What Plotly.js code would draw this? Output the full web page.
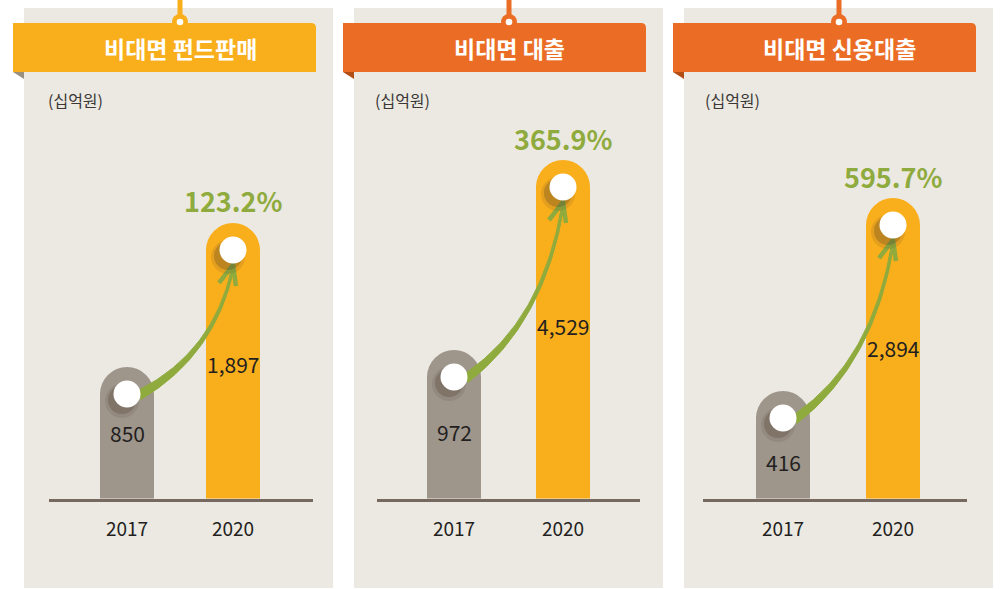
<!DOCTYPE html>
<html><head><meta charset="utf-8">
<script src="https://cdn.plot.ly/plotly-3.0.1.min.js"></script>
<style>html,body{margin:0;padding:0;background:#fff;}#chart{width:1000px;height:589px;}</style>
</head><body><div id="chart"></div>
<script>
// ---- data ----
const panelTitles = ['비대면 펀드판매', '비대면 대출', '비대면 신용대출'];
const years = ['2017', '2020'];
const values2017 = [850, 972, 416];
const values2020 = [1897, 4529, 2894];
const growthPct = [123.2, 365.9, 595.7];
const unitLabel = '(십억원)';

// ---- style / layout ----
const W = 1000, H = 589;
const COL = {bg:'#ECE9E3', gray:'#9E958B', orange:'#F9AE1C', headerY:'#F9AE1C', headerO:'#EB6D25',
  green:'#8FAB3E', base:'#766A60', text:'#231F20', unit:'#3A3735'};
const FONT = '"Noto Sans CJK KR", "Noto Sans", sans-serif';
const Y_BOTTOM = 498.5, Y_TOP = 98.5;
// each card uses a truncated value axis (floor = yr[0]) so the bars sit on the baseline
const panels = [
  {left:24, header:[13,316], hub:180, hcolor:COL.headerY, fold:'#9A9080', xdom:[49,313], xr:[-0.7358,1.7547], yr:[-106.1,2802.1], grayLbl:66, orLbl:141, unitX:46},
  {left:354, header:[343,646], hub:509, hcolor:COL.headerO, fold:'#B04E16', xdom:[377,640], xr:[-0.7064,1.7064], yr:[-1808.1,5680.4], grayLbl:82, orLbl:166, unitX:373},
  {left:684, header:[673,976], hub:839, hcolor:COL.headerO, fold:'#B04E16', xdom:[703,967], xr:[-0.7273,1.6727], yr:[-964.3,4171.7], grayLbl:71, orLbl:150, unitX:703}
];
const px = x => x / W, py = y => 1 - y / H;
const P = (x, y) => px(x) + ',' + py(y);

const data = [], shapes = [], annotations = [];
const layout = {
  width: W, height: H, margin: {l:0, r:0, t:0, b:0, pad:0},
  paper_bgcolor: '#FFFFFF', plot_bgcolor: 'rgba(0,0,0,0)',
  showlegend: false, hovermode: false, font: {family: FONT, color: COL.text},
  shapes, annotations
};

panels.forEach((p, i) => {
  const sfx = i === 0 ? '' : String(i + 1);
  const xa = 'x' + sfx, ya = 'y' + sfx;
  const xk = (p.xdom[1] - p.xdom[0]) / (p.xr[1] - p.xr[0]);
  const k = (Y_BOTTOM - Y_TOP) / (p.yr[1] - p.yr[0]);
  const v0 = values2017[i], v1 = values2020[i];
  // bars start below the visible floor so the (clipped) bottom stays square
  const barBase = p.yr[0] - 60 / k;

  // background card + header decoration
  shapes.push({type:'rect', xref:'paper', yref:'paper', layer:'below', x0:px(p.left), x1:px(p.left+309), y0:py(588), y1:py(8), fillcolor:COL.bg, line:{width:0}});
  const hx0 = p.header[0], hx1 = p.header[1];
  shapes.push({type:'path', xref:'paper', yref:'paper', layer:'below',
    path:`M${P(hx0,23)} L${P(hx1-5,23)} Q${P(hx1,23)} ${P(hx1,28)} L${P(hx1,72)} L${P(hx0,72)} Z`,
    fillcolor:p.hcolor, line:{width:0}});
  shapes.push({type:'path', xref:'paper', yref:'paper', layer:'below',
    path:`M${P(hx0,72)} L${P(hx0+11,72)} L${P(hx0+11,79)} Z`, fillcolor:p.fold, line:{width:0}});
  shapes.push({type:'line', xref:'paper', yref:'paper', x0:px(p.hub), x1:px(p.hub), y0:py(0), y1:py(18), line:{color:p.hcolor, width:5}});
  shapes.push({type:'circle', xref:'paper', yref:'paper', x0:px(p.hub-8), x1:px(p.hub+8), y0:py(22+8), y1:py(22-8), fillcolor:p.hcolor, line:{width:0}});
  shapes.push({type:'circle', xref:'paper', yref:'paper', x0:px(p.hub-3.3), x1:px(p.hub+3.3), y0:py(22+3.3), y1:py(22-3.3), fillcolor:'#FFFFFF', line:{width:0}});

  annotations.push({xref:'paper', yref:'paper', x:px(p.hub), y:py(48), xanchor:'center', yanchor:'middle', showarrow:false,
    text:panelTitles[i], font:{family:FONT, size:23, color:'#FFFFFF', weight:700}});
  annotations.push({xref:'paper', yref:'paper', x:px(p.unitX), y:py(100), xanchor:'left', yanchor:'middle', showarrow:false,
    text:unitLabel, font:{family:FONT, size:16, color:COL.unit}});

  // axes
  layout['xaxis' + sfx] = {domain:[px(p.xdom[0]), px(p.xdom[1])], range:p.xr, anchor:ya, fixedrange:true,
    tickmode:'array', tickvals:[0,1], ticktext:years, ticks:'', showgrid:false, zeroline:false,
    showline:true, linecolor:COL.base, linewidth:3, ticklabelstandoff:12,
    tickfont:{family:FONT, size:19, color:COL.text}};
  layout['yaxis' + sfx] = {domain:[py(Y_BOTTOM), py(Y_TOP)], range:p.yr, anchor:xa, fixedrange:true,
    visible:false, showgrid:false, zeroline:false};

  // bars: top of each bar sits at its value
  data.push({type:'bar', x:[0,1], y:[v0 - barBase, v1 - barBase], base:barBase, xaxis:xa, yaxis:ya,
    width:54 / xk, marker:{color:[COL.gray, COL.orange], cornerradius:'50%', line:{width:0}},
    hoverinfo:'skip', textposition:'none'});

  // arrow (data coordinates, offsets in pixels)
  const conv = (x, y, dx, dyDown) => [x + dx / xk, y - dyDown / k];
  const f = a => a[0] + ',' + a[1];
  const S = conv(0, v0, 13, 28);
  const T = conv(1, v1, 0, 42);
  const Cp = [S[0] + 0.8 * (T[0] - S[0]), S[1] + 0.32 * (T[1] - S[1])];
  const S1 = conv(S[0], S[1], -1, -5), S2 = conv(S[0], S[1], 1, 4.5);
  const C1 = conv(Cp[0], Cp[1], -1, -1.5), C2 = conv(Cp[0], Cp[1], 1.5, 1.5);
  const T1 = conv(T[0], T[1], -1.2, 3), T2 = conv(T[0], T[1], 1.2, 3);
  shapes.push({type:'path', xref:xa, yref:ya, path:`M${f(S1)} Q${f(C1)} ${f(T1)} L${f(T2)} Q${f(C2)} ${f(S2)} Z`,
    fillcolor:COL.green, line:{color:COL.green, width:1}});
  const Lw = conv(T[0], T[1], -14, 18), Rw = conv(T[0], T[1], 3, 21);
  shapes.push({type:'path', xref:xa, yref:ya, path:`M${f(Lw)} L${f(T)} L${f(Rw)}`,
    line:{color:COL.green, width:4.5}});

  // circles with shadows
  [[0, v0], [1, v1]].forEach(([xi, v]) => {
    const base = {type:'circle', xref:xa, yref:ya, xsizemode:'pixel', ysizemode:'pixel', xanchor:xi, yanchor:v, line:{width:0}};
    shapes.push(Object.assign({}, base, {x0:-5-17, x1:-5+17, y0:-27-7-17, y1:-27-7+17, fillcolor:'rgba(70,55,40,0.12)'}));
    shapes.push(Object.assign({}, base, {x0:-5-14, x1:-5+14, y0:-27-6-14, y1:-27-6+14, fillcolor:'rgba(70,55,40,0.25)'}));
    shapes.push(Object.assign({}, base, {x0:-13.5, x1:13.5, y0:-27-13.5, y1:-27+13.5, fillcolor:'#FFFFFF'}));
  });

  // labels
  annotations.push({xref:xa, yref:ya, x:1, y:v1, yshift:22, xanchor:'center', yanchor:'middle', showarrow:false,
    text:growthPct[i].toFixed(1) + '%', font:{family:FONT, size:27, color:COL.green, weight:700}});
  annotations.push({xref:xa, yref:ya, x:0, y:v0, yshift:-p.grayLbl, xanchor:'center', yanchor:'middle', showarrow:false,
    text:v0.toLocaleString('en-US'), font:{family:FONT, size:21, color:COL.text}});
  annotations.push({xref:xa, yref:ya, x:1, y:v1, yshift:-p.orLbl, xanchor:'center', yanchor:'middle', showarrow:false,
    text:v1.toLocaleString('en-US'), font:{family:FONT, size:21, color:COL.text}});
});

Plotly.newPlot('chart', data, layout, {displayModeBar:false, staticPlot:true});
</script></body></html>
